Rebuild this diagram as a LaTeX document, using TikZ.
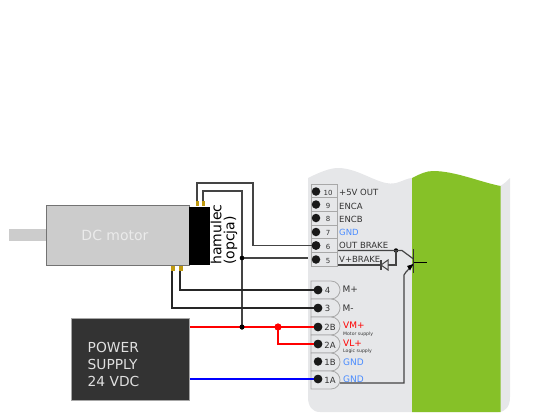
\documentclass[tikz,border=0pt]{standalone}
\usepackage{fontspec}
\setmainfont{DejaVu Sans}
\definecolor{panel}{HTML}{E6E7E9}
\definecolor{leaf}{HTML}{86C128}
\definecolor{cell}{HTML}{A8A8A8}
\definecolor{ink}{HTML}{333333}
\definecolor{gold}{HTML}{C09A10}
\definecolor{wire}{HTML}{444444}
\definecolor{bluetxt}{HTML}{4A8CFF}
\tikzset{
  pinhole/.style={circle,fill=black!90,inner sep=0pt,minimum size=8.5pt},
  numtxt/.style={font=\fontsize{7}{8}\selectfont,text=ink,inner sep=0pt},
  numbig/.style={font=\fontsize{8.5}{9}\selectfont,text=ink,inner sep=0pt},
  lab/.style={font=\fontsize{8.5}{9}\selectfont,text=ink,inner sep=0pt,anchor=west},
  labred/.style={font=\fontsize{9}{10}\selectfont,text=red,inner sep=0pt,anchor=west},
  labblue/.style={font=\fontsize{9}{10}\selectfont,text=bluetxt,inner sep=0pt,anchor=west},
  tiny/.style={font=\fontsize{4.6}{5}\selectfont,text=ink,inner sep=0pt,anchor=west},
  cellbox/.style={draw=cell,line width=0.8pt},
  goldpin/.style={fill=gold,draw=none},
  dot/.style={circle,fill=black,inner sep=0pt,minimum size=5pt},
  reddot/.style={circle,fill=red,inner sep=0pt,minimum size=7pt},
  graywire/.style={draw=wire,line width=1.4pt},
  blackwire/.style={draw=black!85,line width=2pt},
  redwire/.style={draw=red,line width=1.7pt},
  bluewire/.style={draw=blue,line width=1.9pt},
  thin wire/.style={draw=wire,line width=1.2pt}
}
\begin{document}
\begin{tikzpicture}[x=1pt,y=-1pt]
\useasboundingbox (0,0) rectangle (559,412);
% panel
\fill[panel] (308,178) .. controls (320,172) and (330,168) .. (338,168)
  .. controls (360,168) and (380,187) .. (396,183) .. controls (403,181) and (408,178) .. (412,178)
  -- (500,186) .. controls (504,184) and (507,181) .. (510,178)
  -- (510,397) .. controls (510,406) and (506,412) .. (498,412)
  -- (320,412) .. controls (312,412) and (308,406) .. (308,397) -- cycle;
\fill[leaf] (412,178) .. controls (420,174) and (426,171) .. (433,171)
  .. controls (455,171) and (480,182) .. (500.5,186) -- (500.5,412) -- (412,412) -- cycle;
% upper terminal cells
\foreach \t/\b in {184/197.7,197.7/211.3,211.3/225,225/238.7,238.7/252.3,252.3/266}
  \draw[cellbox] (311,\t) rectangle (337,\b);
% lower terminal cells
\foreach \t/\m/\b in {281/290/299,299/308/317,317/326/335,335/344/353,353/362/371,371/380/389}
  \draw[cellbox,fill=panel] (311,\t) -- (331,\t) .. controls (337,\t) and (340,\m-4) .. (340,\m)
    .. controls (340,\m+4) and (337,\b) .. (331,\b) -- (311,\b) -- cycle;
% motor
\fill[black!20] (9,229) rectangle (46,241);
\node[draw=black!55,fill=black!20,line width=0.7pt,minimum width=143pt,minimum height=60pt,inner sep=0pt,
  text=black!8,font=\fontsize{14}{16}\selectfont] (motor) at (117.5,235) {\hspace*{-5pt}DC motor};
\node[fill=black,minimum width=20.5pt,minimum height=58pt,inner sep=0pt] (brake) at (199.5,236) {};
\node[rotate=90,anchor=south west,inner sep=0pt,align=left,font=\fontsize{14}{13}\selectfont,text=black] (brakelab) at (237.5,265) {hamulec\\(opcja)};
\fill[goldpin] (195.5,201) rectangle (198.5,206);
\fill[goldpin] (201.5,201) rectangle (204.5,206);
\fill[goldpin] (170.5,266) rectangle (174.5,271);
\fill[goldpin] (178.5,266) rectangle (182.5,271);
\coordinate (bt1) at (197,201);
\coordinate (bt2) at (203,201);
\coordinate (mb1) at (172,271);
\coordinate (mb2) at (180,271);
% power supply
\node[fill=ink,draw=black!35,line width=0.5pt,minimum width=118pt,minimum height=82pt,inner sep=0pt] (psu) at (130.5,359) {};
\node[anchor=west,inner sep=0pt,align=left,text=black!12,font=\fontsize{13.8}{17}\selectfont] (psutxt) at (87.5,364) {POWER\\SUPPLY\\24 VDC};
% terminals
\foreach \n/\y in {p10/191.5,p9/204.5,p8/218,p7/232,p6/245.5,p5/259.5}
  \node[pinhole] (\n) at (316,\y) {};
\foreach \n/\y in {p4/290,p3/308,p2B/327,p2A/344,p1B/361.5,p1A/379}
  \node[pinhole] (\n) at (318,\y) {};
\foreach \t/\y in {10/192.5,9/206,8/219,7/233,6/246.5,5/261}
  \node[numtxt] at (328,\y) {\t};
\foreach \t/\y in {4/290,3/308.5}
  \node[numbig] at (327.5,\y) {\t};
\foreach \t/\y in {2B/327,2A/345,1B/362,1A/380}
  \node[numbig] at (330,\y) {\t};
% labels
\node[lab] at (339,192.5) {+5V OUT};
\node[lab] at (339,206) {ENCA};
\node[lab] at (339,219) {ENCB};
\node[lab,text=bluetxt] at (339,232) {GND};
\node[lab] at (339,245.5) {OUT BRAKE};
\node[lab] at (339,259) {V+BRAKE};
\node[lab,font=\fontsize{9}{10}\selectfont] at (342.5,289.5) {M+};
\node[lab,font=\fontsize{9}{10}\selectfont] at (342.5,308) {M-};
\node[labred] at (343,325) {VM+};
\node[tiny] at (343,334) {Motor supply};
\node[labred] at (343,343) {VL+};
\node[tiny] at (343,351) {Logic supply};
\node[labblue] at (343,362) {GND};
\node[labblue] at (343,379.5) {GND};
% junction coordinates
\node[dot] (j1) at (242,327) {};
\node[dot,minimum size=4.5pt] (j2) at (242,258) {};
\node[reddot] (j3) at (278,327) {};
\coordinate (p5end) at (308,258);
% wires
\draw[graywire] (bt1) -- (197,183) -- (253,183) -- (253,245.5) -- (p6.center);
\draw[graywire] (bt2) -- (203,191) -- (242,191) -- (j1.center);
\draw[graywire] (j2.center) -- (p5end);
\draw[blackwire] (mb2) -- (180,290) -- (p4.center);
\draw[blackwire] (mb1) -- (172,308) -- (p3.center);
\draw[redwire] (psu.east |- j3) -- (j3.center) -- (p2B.center);
\draw[redwire] (j3.center) |- (p2A.center);
\draw[bluewire] (psu.east |- p1A) -- (p1A.center);
\node[dot] at (j1) {};
\node[dot,minimum size=4.5pt] at (j2) {};
\node[reddot] at (j3) {};
\foreach \y in {290,308,327,344,379}
  \node[pinhole] at (318,\y) {};
\node[pinhole] at (316,245.5) {};
% transistor and diode
\node[dot,minimum size=4.5pt] (j4) at (396,250.5) {};
\coordinate (coll) at (413.5,259);
\coordinate (emit) at (413.5,264);
\coordinate (ob) at (338,250.5);
\coordinate (vb) at (338,265);
\coordinate (gb) at (340,383);
\draw[thin wire] (ob) -- (j4.center) -- (402,250.5) -- (coll);
\draw[thin wire] (gb) -- (404,383) -- (404,275) -- (406,272) -- (emit);
\fill[black] (413.5,264) -- (407,266) -- (410,270.5) -- cycle;
\draw[draw=black!80,line width=1.3pt] (413.5,249) -- (413.5,273);
\draw[draw=black,line width=1pt] (413.5,262) -- (427,262);
\draw[thin wire] (vb) -- (381,265);
\draw[thin wire] (388,265) -- (396,265) -- (j4.center);
\draw[draw=wire,line width=1pt,fill=panel] (388,260) -- (381,265) -- (388,270) -- cycle;
\draw[draw=wire,line width=1.1pt] (381,260) -- (381,270);
\end{tikzpicture}
\end{document}
